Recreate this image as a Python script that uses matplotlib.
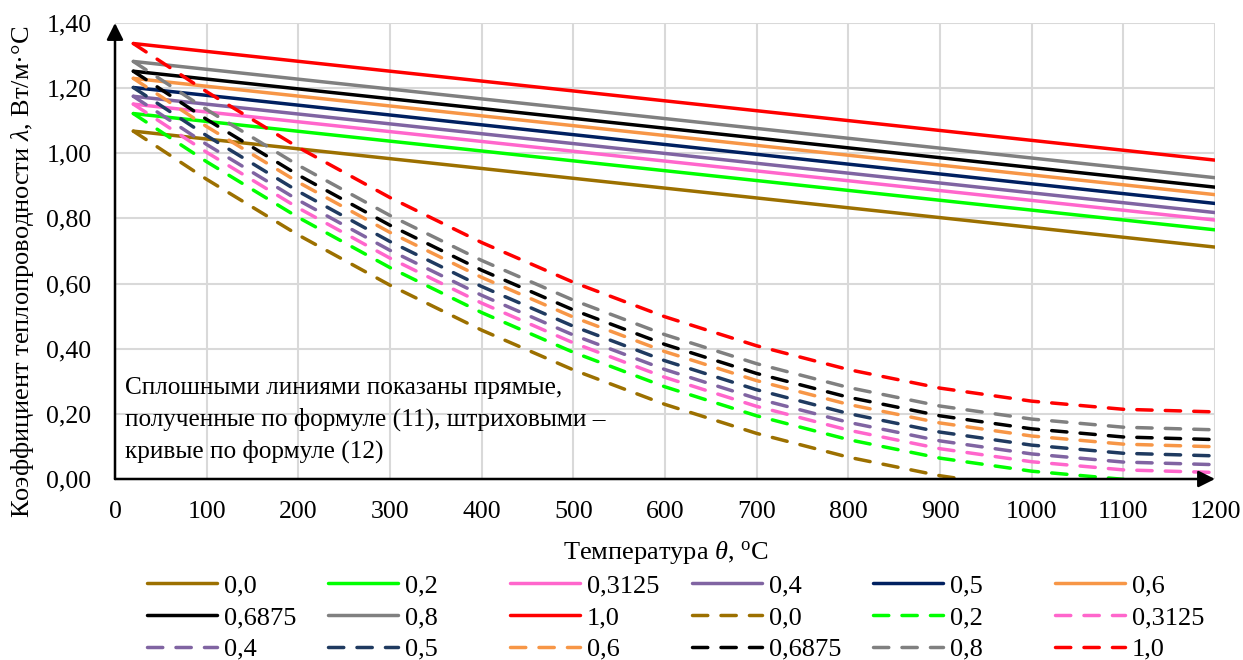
import matplotlib.pyplot as plt

plt.rcParams['font.family'] = ['Liberation Serif', 'DejaVu Serif']
plt.rcParams['mathtext.fontset'] = 'custom'
plt.rcParams['mathtext.rm'] = 'Liberation Serif'
plt.rcParams['mathtext.it'] = 'Liberation Serif:italic'

# values
labels = ["0,0", "0,2", "0,3125", "0,4", "0,5", "0,6", "0,6875", "0,8", "1,0"]
colors = ["#9C7000", "#00FF00", "#FF66CC", "#8064A2", "#002060",
          "#F79646", "#000000", "#808080", "#FF0000"]
dash_colors = ["#9C7000", "#00FF00", "#FF66CC", "#8064A2", "#1F3A60",
               "#F79646", "#000000", "#808080", "#FF0000"]

theta_line = [20, 1200]
lam_line = [
    [1.068, 0.712],
    [1.122, 0.765],
    [1.151, 0.795],
    [1.175, 0.818],
    [1.202, 0.846],
    [1.230, 0.873],
    [1.252, 0.896],
    [1.282, 0.925],
    [1.337, 0.979],
]

theta_curve = [20, 100, 200, 300, 400, 500, 600, 700, 800, 900, 1000, 1100, 1200]
lam_curve = [
    [1.068, 0.920, 0.749, 0.595, 0.457, 0.335, 0.229, 0.140, 0.067, 0.010, -0.031, -0.055, -0.063],
    [1.122, 0.974, 0.803, 0.649, 0.511, 0.389, 0.283, 0.194, 0.121, 0.064, 0.024, -0.001, -0.009],
    [1.151, 1.003, 0.832, 0.678, 0.540, 0.418, 0.312, 0.223, 0.150, 0.093, 0.053, 0.028, 0.020],
    [1.175, 1.027, 0.856, 0.702, 0.564, 0.442, 0.336, 0.247, 0.174, 0.117, 0.077, 0.052, 0.044],
    [1.202, 1.054, 0.883, 0.729, 0.591, 0.469, 0.363, 0.274, 0.201, 0.144, 0.104, 0.079, 0.071],
    [1.230, 1.082, 0.911, 0.757, 0.619, 0.497, 0.391, 0.302, 0.229, 0.172, 0.132, 0.107, 0.099],
    [1.252, 1.104, 0.933, 0.779, 0.641, 0.519, 0.413, 0.324, 0.251, 0.194, 0.154, 0.129, 0.121],
    [1.282, 1.134, 0.963, 0.809, 0.671, 0.549, 0.443, 0.354, 0.281, 0.224, 0.184, 0.159, 0.151],
    [1.337, 1.189, 1.018, 0.864, 0.726, 0.604, 0.498, 0.409, 0.336, 0.279, 0.239, 0.214, 0.206],
]

x_ticks = list(range(0, 1201, 100))
y_ticks = [0.0, 0.2, 0.4, 0.6, 0.8, 1.0, 1.2, 1.4]

W, H = 1243, 660
fig = plt.figure(figsize=(W / 100, H / 100), dpi=100)
ax = fig.add_axes([115 / W, 1 - 479 / H, 1100 / W, 456 / H])

handles = []
for lam, c, lab in zip(lam_line, colors, labels):
    h, = ax.plot(theta_line, lam, color=c, lw=2.5, solid_capstyle='round', label=lab)
    handles.append(h)
for lam, c, lab in zip(lam_curve, dash_colors, labels):
    h, = ax.plot(theta_curve, lam, color=c, lw=2.5, dashes=(4.4, 3.8),
                 dash_capstyle='round', label=lab)
    handles.append(h)

ax.set_xlim(0, 1200)
ax.set_ylim(0, 1.4)
ax.set_xticks(x_ticks)
ax.set_yticks(y_ticks)
ax.set_yticklabels([f"{v:.2f}".replace('.', ',') for v in y_ticks])
ax.tick_params(length=0, labelsize=18.6)
ax.tick_params(axis='y', pad=17)
ax.tick_params(axis='x', pad=16)
ax.grid(True, color='#D9D9D9', lw=1.5)
ax.set_axisbelow(True)
for s in ax.spines.values():
    s.set_visible(False)

# axes drawn as arrows
ax.annotate('', xy=(0, 1.0), xytext=(0, 0), xycoords='axes fraction',
            arrowprops=dict(arrowstyle='-|>', color='black', lw=1.8, mutation_scale=25,
                            shrinkA=0, shrinkB=0))
ax.annotate('', xy=(1.0, 0), xytext=(0, 0), xycoords='axes fraction',
            arrowprops=dict(arrowstyle='-|>', color='black', lw=1.8, mutation_scale=25,
                            shrinkA=0, shrinkB=0))

fig.text(666 / W, 1 - 552 / H, r"Температура $\theta$, $^{\mathrm{o}}$C",
         fontsize=19, ha='center', va='center')
fig.text(23 / W, 1 - 272 / H, r"Коэффициент теплопроводности $\lambda$, Вт/м·°С",
         fontsize=19, ha='center', va='center', rotation=90)

ax.text(11, 0.1815, "Сплошными линиями показаны прямые,\n"
        "полученные по формуле (11), штриховыми –\n"
        "кривые по формуле (12)", fontsize=18.2, va='center', ha='left',
        linespacing=1.48)

# legend: 6 columns x 3 rows, filled row by row
col_x = [147, 328, 510, 692, 873, 1055]
for j, x in enumerate(col_x):
    hs = [handles[j + 6 * r] for r in range(3)]
    fig.legend(hs, [h.get_label() for h in hs], loc='upper left',
               bbox_to_anchor=(x / W, 1 - 574 / H), frameon=False, fontsize=19,
               handlelength=2.65, handletextpad=0.27, borderpad=0, borderaxespad=0,
               labelspacing=0.31)

fig.savefig("out.png", dpi=100)
